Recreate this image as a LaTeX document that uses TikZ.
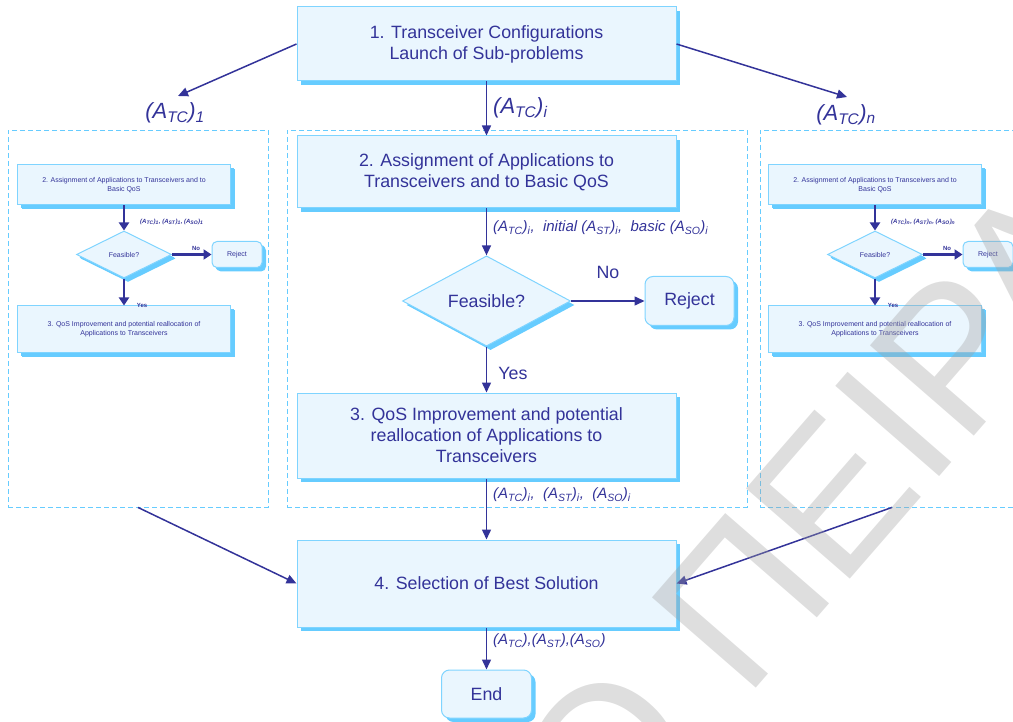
\documentclass[tikz,border=0pt]{standalone}
\usepackage{fontspec}
\setmainfont{Liberation Sans}
\usetikzlibrary{shapes.geometric,shadows,arrows.meta,calc}

\definecolor{ink}{HTML}{333399}
\definecolor{edge}{HTML}{7FD4FF}
\definecolor{boxfill}{HTML}{EAF6FE}
\definecolor{shade}{HTML}{66CCFF}
\definecolor{wmgray}{HTML}{A0A0A0}

% subscript inside the data labels
\newcommand{\lsub}[1]{\textsubscript{#1}}

\tikzset{
  box/.style={draw=edge, line width=1pt, fill=boxfill, align=center, text=ink, inner sep=0pt,
    drop shadow={shadow xshift=4pt, shadow yshift=-4pt, opacity=1, fill=shade}},
  bigfont/.style={font=\fontsize{17.8}{21}\selectfont},
  bigbox/.style={box, minimum width=379pt, bigfont},
  bigdia/.style={box, diamond, minimum width=168pt, minimum height=88pt, bigfont},
  bigrej/.style={box, rounded corners=8pt, minimum width=89pt, minimum height=49pt, bigfont},
  smallbox/.style={box, minimum width=213pt, font=\fontsize{7}{9}\selectfont,
    drop shadow={shadow xshift=3pt, shadow yshift=-3pt, opacity=1, fill=shade}},
  smalldia/.style={box, diamond, minimum width=95pt, minimum height=47pt, font=\fontsize{7}{9}\selectfont,
    drop shadow={shadow xshift=3pt, shadow yshift=-3pt, opacity=1, fill=shade}},
  smallrej/.style={box, rounded corners=5pt, minimum width=50pt, minimum height=26pt, font=\fontsize{7}{9}\selectfont,
    drop shadow={shadow xshift=3pt, shadow yshift=-3pt, opacity=1, fill=shade}},
  panel/.style={draw=shade, line width=0.9pt, dash pattern=on 5pt off 3pt, inner sep=0pt},
  flow/.style={draw=ink, line width=1.5pt, -{Triangle[length=10pt,width=9pt]}},
  sflow/.style={draw=ink, line width=2.8pt, -{Triangle[length=8pt,width=10pt]}},
  txt/.style={text=ink, inner sep=0pt, bigfont},
  stxt/.style={text=ink, inner sep=0pt, font=\fontsize{6}{7}\selectfont\bfseries},
  biglab/.style={text=ink, inner sep=0pt, font=\fontsize{22}{22}\selectfont\itshape},
  lab/.style={text=ink, inner sep=0pt, anchor=west, font=\fontsize{15}{15}\selectfont\itshape},
  slab/.style={text=ink, inner sep=0pt, anchor=west, font=\fontsize{6}{6}\selectfont\bfseries\itshape},
}

% one reduced copy of the sub-problem flow: #1 name prefix, #2 centre x, #3 index
\newcommand{\subflow}[3]{%
  \node[smallbox, minimum height=40pt] (#1b2) at (#2,185)
    {2. Assignment of Applications to Transceivers and to\\Basic QoS};
  \node[smalldia] (#1d) at (#2,254.5) {Feasible?};
  \node[smallrej] (#1r) at ($(#2,254.5)+(113,0)$) {Reject};
  \node[smallbox, minimum height=47pt] (#1b3) at (#2,329.5)
    {3. QoS Improvement and potential reallocation of\\Applications to Transceivers};
  \draw[sflow] (#1b2) -- (#1d);
  \draw[sflow] (#1d) -- (#1r);
  \draw[sflow] (#1d) -- (#1b3);
  \node[slab] (#1q) at ($(#2,222)+(16,0)$)
    {(A\lsub{TC})\lsub{#3}, (A\lsub{ST})\lsub{#3}, (A\lsub{SO})\lsub{#3}};
  \node[stxt] (#1no) at ($(#2,248)+(72,0)$) {No};
  \node[stxt] (#1yes) at ($(#2,305)+(18,0)$) {Yes};
}

\begin{document}
\begin{tikzpicture}[x=1pt,y=-1pt]
\useasboundingbox (0,0) rectangle (1013,722);
\clip (0,0) rectangle (1013,722);

% dashed frames of the sub-problems
\node[panel, minimum width=260pt, minimum height=377pt] (lp) at (138,318.5) {};
\node[panel, minimum width=460pt, minimum height=377pt] (mp) at (517,318.5) {};
\node[panel, minimum width=264pt, minimum height=377pt] (rp) at (892,318.5) {};

% main flow
\node[bigbox, minimum height=74pt] (t1) at (486.5,44) {1. Transceiver Configurations\\Launch of Sub-problems};
\node[bigbox, minimum height=72pt] (m2) at (486.5,172) {2. Assignment of Applications to\\Transceivers and to Basic QoS};
\node[bigdia] (md) at (486.5,301) {Feasible?};
\node[bigrej] (mr) at (689.5,301) {Reject};
\node[bigbox, minimum height=85pt] (m3) at (486.5,435.5) {3. QoS Improvement and potential\\reallocation of Applications to\\Transceivers};
\node[bigbox, minimum height=87pt] (m4) at (486.5,583.5) {4. Selection of Best Solution};
\node[bigrej, minimum width=90pt, minimum height=48pt] (fin) at (486.5,694) {End};

\draw[flow] (t1) -- (m2);
\draw[flow] (m2) -- (md);
\draw[flow] (md) -- (mr);
\draw[flow] (md) -- (m3);
\draw[flow] (m3) -- (m4);
\draw[flow] (m4) -- (fin);

\coordinate (h1) at (178,96);
\coordinate (hn) at (847,97);
\draw[flow] (t1.west) -- (h1);
\draw[flow] (t1.east) -- (hn);
\draw[flow] (lp.south) -- (m4.west);
\draw[flow] (rp.south) -- (m4.east);

\node[biglab] (l1) at (175,113) {(A\lsub{TC})\lsub{1}};
\node[biglab] (ln) at (846,115) {(A\lsub{TC})\lsub{n}};
\node[biglab, anchor=west] (li) at (493,108) {(A\lsub{TC})\lsub{i}};
\node[lab] (q1) at (493,228) {(A\lsub{TC})\lsub{i},~ initial~(A\lsub{ST})\lsub{i},~ basic~(A\lsub{SO})\lsub{i}};
\node[lab] (q2) at (493,495) {(A\lsub{TC})\lsub{i},~ (A\lsub{ST})\lsub{i},~ (A\lsub{SO})\lsub{i}};
\node[lab] (q3) at (493,641) {(A\lsub{TC}),(A\lsub{ST}),(A\lsub{SO})};
\node[txt] (no) at (608,272) {No};
\node[txt] (yes) at (513,373) {Yes};

% reduced copies for the first and the last configuration
\subflow{l}{124}{1}
\subflow{r}{875}{n}

% repository watermark
\node[rotate=49, anchor=base west, inner sep=0pt, text=wmgray, text opacity=0.35,
  font=\fontsize{200}{200}\selectfont] (wm) at (745,700) {\llap{ΠΑΝΕΠΙΣΤΗΜΙΟ~}ΠΕΙΡΑΙΩΣ};
\end{tikzpicture}
\end{document}
